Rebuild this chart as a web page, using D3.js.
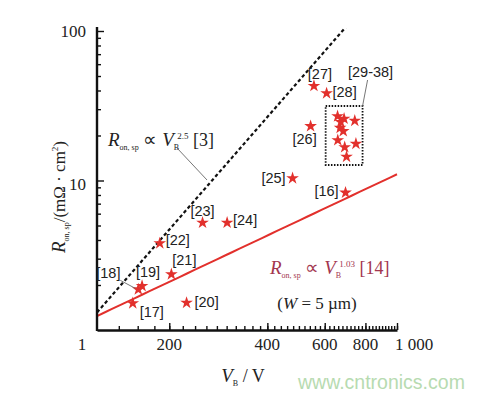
<!DOCTYPE html>
<html><head><meta charset="utf-8">
<script src="https://cdn.jsdelivr.net/npm/d3@7"></script>
<style>body{margin:0;background:#fff}svg{display:block}</style>
</head><body>
<svg id="c" width="484" height="398"></svg>
<script>
// ---------- data ----------
const refLabels   = ["[16]","[17]","[18]","[19]","[20]","[21]","[22]","[23]","[24]","[25]","[26]","[27]","[28]"];
const refVoltage  = [695, 154.5, 160.7, 165, 226, 203, 187, 253, 301, 478, 543, 556, 608];
const refRon      = [8.29, 1.51, 1.87, 1.97, 1.52, 2.36, 3.80, 5.22, 5.22, 10.35, 23.1, 42.9, 38.3];
const clusterVoltage = [657, 688, 742, 669, 684, 658, 691, 748, 700, 672];
const clusterRon     = [26.9, 25.9, 25.1, 22.5, 21.4, 18.6, 16.7, 17.6, 14.4, 24.6];
const clusterLabel   = "[29-38]";
const clusterBoxV = [604, 784];
const clusterBoxR = [12.7, 31.5];
const limitDashed = {k: 1.31, n: 2.5, v0: 120};   // R_on,sp ∝ V_B^2.5 [3]
const limitRed    = {k: 1.24, n: 1.03, v0: 120};  // R_on,sp ∝ V_B^1.03 [14]
const xDomain = [120, 1000];
const yDomain = [1, 100];
const xTicksAll = d3.range(140, 1001, 20);
const xMajor = [200, 400, 600, 800, 1000];
const xMajorLabels = ["200", "400", "600", "800", "1 000"];
const yMinor = [2,3,4,5,6,7,8,9,20,30,40,50,60,70,80,90];
const yMajor = [10, 100];
const yMajorLabels = ["10", "100"];

// ---------- layout ----------
const labelOffsets = {
  "[16]":[-19,-2],"[17]":[19,9],"[18]":[-30,-16],"[19]":[6,-14],"[20]":[20,-1],
  "[21]":[13,-14],"[22]":[18,-3],"[23]":[0,-12],"[24]":[18,-3],"[25]":[-19,0],
  "[26]":[-6,13],"[27]":[6,-12],"[28]":[18,-1]
};
const RED = "#e2302c", MAROON = "#a3364f";
const SERIF = "'Liberation Serif','Times New Roman',serif";
const SANS = "'Liberation Sans',Arial,sans-serif";

const svg = d3.select("#c");
const x = d3.scaleLog().domain(xDomain).range([97, 397]);
const y = d3.scaleLog().domain(yDomain).range([330, 31]);

// clip
svg.append("defs").append("clipPath").attr("id","plot")
  .append("rect").attr("x",97).attr("y",28).attr("width",302).attr("height",302);

// ---- lines ----
function powerLine(p, vEnd){
  const vs = d3.range(0, 41).map(i => p.v0 * Math.pow(vEnd / p.v0, i/40));
  return vs.map(v => [x(v), y(p.k * Math.pow(v / p.v0, p.n))]);
}
const lineGen = d3.line();
svg.append("path").attr("clip-path","url(#plot)")
  .attr("d", lineGen(powerLine(limitDashed, 1000)))
  .attr("fill","none").attr("stroke","#111").attr("stroke-width",2.2)
  .attr("stroke-dasharray","3.5,2.5");
svg.append("path").attr("clip-path","url(#plot)")
  .attr("d", lineGen(powerLine(limitRed, 1000)))
  .attr("fill","none").attr("stroke",RED).attr("stroke-width",2);

// ---- axes ----
const gx = svg.append("g").attr("transform","translate(0,330)");
gx.call(d3.axisBottom(x).tickValues(xTicksAll).tickSizeInner(-4).tickSizeOuter(0).tickFormat(""));
gx.append("g").call(d3.axisBottom(x).tickValues(xMajor).tickSizeInner(-7).tickSizeOuter(0).tickFormat(""))
  .select(".domain").remove();
gx.selectAll("line").attr("stroke","#111").attr("stroke-width",1.4);
gx.select(".domain").attr("stroke","#111").attr("stroke-width",2.4);

const gy = svg.append("g").attr("transform","translate(97,0)");
gy.call(d3.axisLeft(y).tickValues(yMinor).tickSizeInner(-4).tickSizeOuter(0).tickFormat(""));
gy.append("g").call(d3.axisLeft(y).tickValues(yMajor).tickSizeInner(-7).tickSizeOuter(0).tickFormat(""))
  .select(".domain").remove();
gy.selectAll("line").attr("stroke","#111").attr("stroke-width",1.4);
gy.select(".domain").attr("stroke","#111").attr("stroke-width",2.4).attr("d","M0,27V331");

// tick labels
svg.append("g").selectAll("text").data(xMajor).join("text")
  .attr("x", (d,i) => x(d) + (i === 4 ? 17 : 0))
  .attr("y", 350).attr("text-anchor","middle")
  .attr("font-family",SERIF).attr("font-size",17).attr("fill","#222")
  .text((d,i) => xMajorLabels[i]);
svg.append("text").attr("x", x(xDomain[0]) - 15).attr("y",350).attr("text-anchor","middle")
  .attr("font-family",SERIF).attr("font-size",17).attr("fill","#222").text("1");
svg.append("g").selectAll("text").data(yMajor).join("text")
  .attr("x", 86).attr("y", d => y(d) + (d === 10 ? 9 : 6)).attr("text-anchor","end")
  .attr("font-family",SERIF).attr("font-size",17).attr("fill","#222")
  .text((d,i) => yMajorLabels[i]);

// rich text helper
function rich(sel, parts){
  let cur = 0;
  parts.forEach(p => {
    const sh = p.sh || 0;
    const ts = sel.append("tspan").text(p.t).attr("font-size", p.s)
      .attr("font-style", p.i ? "italic" : "normal")
      .attr("dy", cur - sh);
    if (p.dx) ts.attr("dx", p.dx);
    cur = sh;
  });
}

// axis titles
const yt = svg.append("text").attr("transform","translate(65,197) rotate(-90)")
  .attr("text-anchor","middle").attr("font-family",SERIF).attr("fill","#222");
rich(yt, [{t:"R",s:19,i:true},{t:"on,  sp",s:8,sh:-4},{t:"/(mΩ · cm",s:17,sh:0},{t:"2",s:9,sh:7},{t:")",s:17,sh:0}]);
const xt = svg.append("text").attr("x",243).attr("y",382).attr("text-anchor","middle")
  .attr("font-family",SERIF).attr("fill","#222");
rich(xt, [{t:"V",s:19,i:true},{t:"B",s:8,sh:-4},{t:" / V",s:18,sh:0}]);

// ---- annotations ----
const a1 = svg.append("text").attr("x",108).attr("y",146).attr("font-family",SERIF).attr("fill","#222");
rich(a1, [{t:"R",s:19,i:true},{t:"on,  sp",s:8,sh:-4},{t:" ∝ ",s:19,sh:0},{t:"V",s:19,i:true},
          {t:"B",s:8,sh:-4},{t:"2.5",s:9,sh:7,dx:-2},{t:" [3]",s:18,sh:0}]);
svg.append("line").attr("x1",177).attr("y1",148).attr("x2",207).attr("y2",180)
  .attr("stroke","#666").attr("stroke-width",0.9);

const a2 = svg.append("text").attr("x",270).attr("y",274).attr("font-family",SERIF).attr("fill",MAROON);
rich(a2, [{t:"R",s:19,i:true},{t:"on,  sp",s:8,sh:-4},{t:" ∝ ",s:19,sh:0},{t:"V",s:19,i:true},
          {t:"B",s:8,sh:-4},{t:"1.03",s:9,sh:7,dx:-2},{t:" [14]",s:18,sh:0}]);
const a3 = svg.append("text").attr("x",317).attr("y",309).attr("text-anchor","middle")
  .attr("font-family",SERIF).attr("fill","#222");
rich(a3, [{t:"(",s:17},{t:"W",s:17,i:true},{t:" = 5 µm)",s:17}]);

// ---- cluster box ----
svg.append("rect")
  .attr("x", x(clusterBoxV[0])).attr("y", y(clusterBoxR[1]))
  .attr("width", x(clusterBoxV[1]) - x(clusterBoxV[0]))
  .attr("height", y(clusterBoxR[0]) - y(clusterBoxR[1]))
  .attr("fill","none").attr("stroke","#111").attr("stroke-width",1.8).attr("stroke-dasharray","1.5,1.5");
svg.append("line").attr("x1", x(clusterBoxV[1])).attr("y1", y(clusterBoxR[1]))
  .attr("x2", x(clusterBoxV[1]) + 5).attr("y2", y(clusterBoxR[1]) - 26)
  .attr("stroke","#666").attr("stroke-width",0.9);
svg.append("text").attr("x", x(clusterBoxV[1]) + 8).attr("y", y(clusterBoxR[1]) - 34)
  .attr("text-anchor","middle").attr("dominant-baseline","central")
  .attr("font-family",SANS).attr("font-size",14.5).attr("fill","#222").text(clusterLabel);

// ---- stars ----
const star = d3.symbol().type(d3.symbolStar).size(50);
const pts = refLabels.map((l,i) => ({l, v: refVoltage[i], r: refRon[i]}));
const cl = clusterVoltage.map((v,i) => ({v, r: clusterRon[i]}));
svg.append("g").selectAll("path").data(pts.concat(cl)).join("path")
  .attr("d", star).attr("transform", d => `translate(${x(d.v)},${y(d.r)})`)
  .attr("fill", RED);

// leader for [18]
const p18 = pts.find(d => d.l === "[18]");
svg.append("line").attr("x1", x(p18.v) - 18).attr("y1", y(p18.r) - 9)
  .attr("x2", x(p18.v) - 3).attr("y2", y(p18.r) - 1)
  .attr("stroke","#666").attr("stroke-width",0.9);

svg.append("g").selectAll("text").data(pts).join("text")
  .attr("x", d => x(d.v) + labelOffsets[d.l][0])
  .attr("y", d => y(d.r) + labelOffsets[d.l][1])
  .attr("text-anchor","middle").attr("dominant-baseline","central")
  .attr("font-family",SANS).attr("font-size",14.5).attr("fill","#222")
  .text(d => d.l);

// watermark
svg.append("text").attr("x",298).attr("y",389).attr("font-family",SANS).attr("font-size",19.5)
  .attr("fill","#b7dbb1").text("www.cntronics.com");
</script>
</body></html>
